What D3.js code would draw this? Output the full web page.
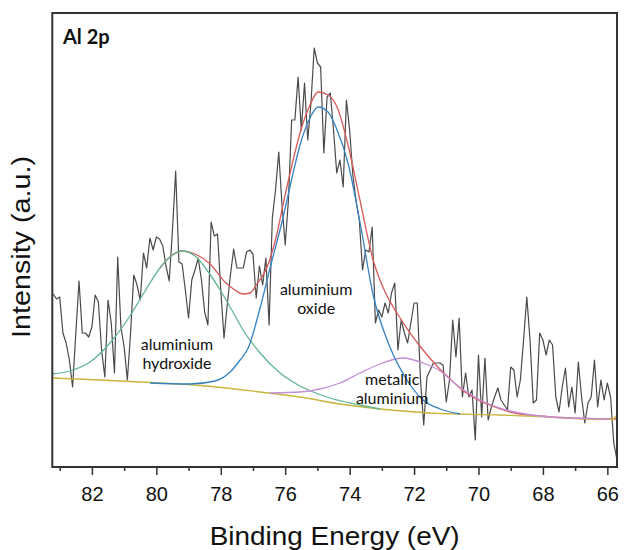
<!DOCTYPE html>
<html><head><meta charset="utf-8">
<script src="https://cdn.jsdelivr.net/npm/d3@7"></script>
<style>body{margin:0;background:#fff}svg{display:block}</style>
</head><body>
<svg id="chart" width="624" height="550"></svg>
<script>
// Raw XPS spectrum, Al 2p region (binding energy from 83.2 eV down to 65.7 eV, 0.1 eV step)
const energyStart = 83.2;
const energyStep = 0.1;
const intensity = [
173,168,170,134,124,107,80,134,186,134,
134,130,140,172,165,117,90,167,144,94,
210,140,120,87,134,192,182,167,214,199,
229,217,230,228,221,201,186,237,296,205,
203,177,149,187,197,209,187,155,142,245,
231,233,177,129,162,192,218,199,199,199,
215,217,213,169,201,182,209,142,249,277,
315,262,222,267,347,347,390,337,384,327,
364,419,404,400,314,370,374,337,294,307,
280,367,337,292,266,247,197,217,215,240,
144,157,150,164,154,174,184,117,147,134,
124,144,164,164,87,42,90,97,104,104,
104,102,65,87,147,110,149,70,94,70,
77,27,112,50,109,47,60,70,79,67,
62,57,100,97,70,87,127,170,127,64,
67,134,127,112,127,122,70,55,80,99,
60,80,54,105,70,44,64,70,107,60,
87,67,84,70,24,7
];

// Fitted components, sampled [binding energy, intensity]
const backgroundFit = [[83.23,89],[81.75,87],[79.89,84],[78.64,81.5],[76.78,75],[75.54,70],[74.30,63],[73.06,58],[71.50,54],[69.33,52],[68.09,50.3],[66.63,48],[65.85,47.7],[65.70,52]];
const hydroxideFit = [[83.23,93],[82.68,96],[82.06,105],[81.44,124],[80.82,151],[80.35,176],[79.89,199],[79.58,210],[79.20,216],[78.80,211],[78.43,197],[78.02,177],[77.71,160],[77.25,134],[76.78,114],[76.16,94],[75.54,81],[74.61,69],[73.68,62],[73.06,58]];
const oxideFit = [[80.20,84],[78.96,83],[78.18,86],[77.71,95],[77.40,107],[77.15,119],[76.78,159],[76.47,199],[76.07,249],[75.79,289],[75.54,322],[75.23,349],[74.98,360],[74.67,355],[74.39,337],[74.05,304],[73.68,245],[73.27,172],[72.75,120],[72.22,87],[71.72,67],[71.19,58],[70.57,53]];
const metallicFit = [[76.47,74],[75.54,75],[74.92,78],[74.30,84],[73.68,94],[73.06,103],[72.34,109],[71.72,104],[71.19,96],[70.67,82],[69.95,67],[69.02,56],[68.09,51],[67.16,49],[65.92,48]];
const envelopeFit = [[79.89,199],[79.58,210],[79.20,216],[78.80,213],[78.33,203],[77.87,185],[77.56,177],[77.31,173],[77.09,174],[76.88,183],[76.56,200],[76.25,234],[76.07,262],[75.79,302],[75.54,334],[75.23,362],[74.98,375],[74.67,372],[74.39,360],[74.05,322],[73.68,267],[73.27,207],[72.90,175],[72.53,154],[72.12,134],[71.72,117],[71.29,101],[70.88,88],[70.42,75],[69.95,66],[69.49,60],[69.02,55],[68.09,51],[67.16,49],[65.70,48]];

const majorTicks = [82,80,78,76,74,72,70,68,66];
const minorTicks = [83,81,79,77,75,73,71,69,67];
const panelLabel = "Al 2p";
const xTitle = "Binding Energy (eV)";
const yTitle = "Intensity (a.u.)";
const componentLabels = [
  {lines:["aluminium","hydroxide"], e:79.36, v:117},
  {lines:["aluminium","oxide"], e:75.04, v:172},
  {lines:["metallic","aluminium"], e:72.68, v:82}
];

const svg = d3.select("#chart");
const L = 52.3, R = 617, T = 13, B = 467;
const x = d3.scaleLinear().domain([83.23, 65.7]).range([L, R]);
const y = d3.scaleLinear().domain([0, 454]).range([B, T]);

svg.append("defs").append("clipPath").attr("id","clip")
  .append("rect").attr("x",L).attr("y",T).attr("width",R-L).attr("height",B-T);

const plot = svg.append("g").attr("clip-path","url(#clip)");

const raw = intensity.map((v,i)=>[energyStart - i*energyStep, v]);
const rawLine = d3.line().x(d=>x(d[0])).y(d=>y(d[1]));
plot.append("path").datum(raw).attr("d", rawLine)
  .attr("fill","none").attr("stroke","#4a4a4a").attr("stroke-width",1.2).attr("stroke-linejoin","round");

const fitLine = d3.line().x(d=>x(d[0])).y(d=>y(d[1])).curve(d3.curveMonotoneX);
const fits = [
  [envelopeFit, "#d95a5a"],
  [backgroundFit, "#c9b43c"],
  [hydroxideFit, "#62b691"],
  [metallicFit, "#c48fd6"],
  [oxideFit, "#3583c4"]
];
fits.forEach(([data,color])=>{
  plot.append("path").datum(data).attr("d", fitLine)
    .attr("fill","none").attr("stroke",color).attr("stroke-width",1.3);
});

// frame
svg.append("rect").attr("x",L).attr("y",T).attr("width",R-L).attr("height",B-T)
  .attr("fill","none").attr("stroke","#333").attr("stroke-width",2);

// axes
const ax = svg.append("g").attr("transform",`translate(0,${B})`)
  .call(d3.axisBottom(x).tickValues(majorTicks).tickSize(8).tickPadding(12).tickFormat(d3.format("d")));
ax.select(".domain").remove();
ax.selectAll("line").attr("stroke","#333").attr("stroke-width",1.5);
ax.selectAll("text").attr("font-family","'Liberation Sans', Arial, sans-serif").attr("font-size",20).attr("fill","#111");

const axm = svg.append("g").attr("transform",`translate(0,${B})`)
  .call(d3.axisBottom(x).tickValues(minorTicks).tickSize(4).tickFormat(""));
axm.select(".domain").remove();
axm.selectAll("line").attr("stroke","#333").attr("stroke-width",1.5);

svg.append("text").attr("x",(L+R)/2).attr("y",545).attr("text-anchor","middle")
  .attr("font-family","'Liberation Sans', Arial, sans-serif").attr("font-size",25).attr("fill","#111")
  .attr("textLength",250).attr("lengthAdjust","spacingAndGlyphs").text(xTitle);

svg.append("text").attr("transform","translate(30,247) rotate(-90)").attr("text-anchor","middle")
  .attr("font-family","'Liberation Sans', Arial, sans-serif").attr("font-size",25).attr("fill","#111")
  .attr("textLength",182).attr("lengthAdjust","spacingAndGlyphs").text(yTitle);

svg.append("text").attr("x",63).attr("y",44)
  .attr("font-family","Lato, 'Open Sans', sans-serif").attr("font-weight","bold").attr("font-size",20).attr("fill","#111")
  .text(panelLabel);

componentLabels.forEach(lab=>{
  const t = svg.append("text").attr("text-anchor","middle")
    .attr("font-family","Lato, 'Open Sans', sans-serif").attr("font-size",16).attr("fill","#111");
  lab.lines.forEach((s,k)=>{
    t.append("tspan").attr("x",x(lab.e)).attr("y",y(lab.v)+k*19).text(s);
  });
});
</script>
</body></html>
